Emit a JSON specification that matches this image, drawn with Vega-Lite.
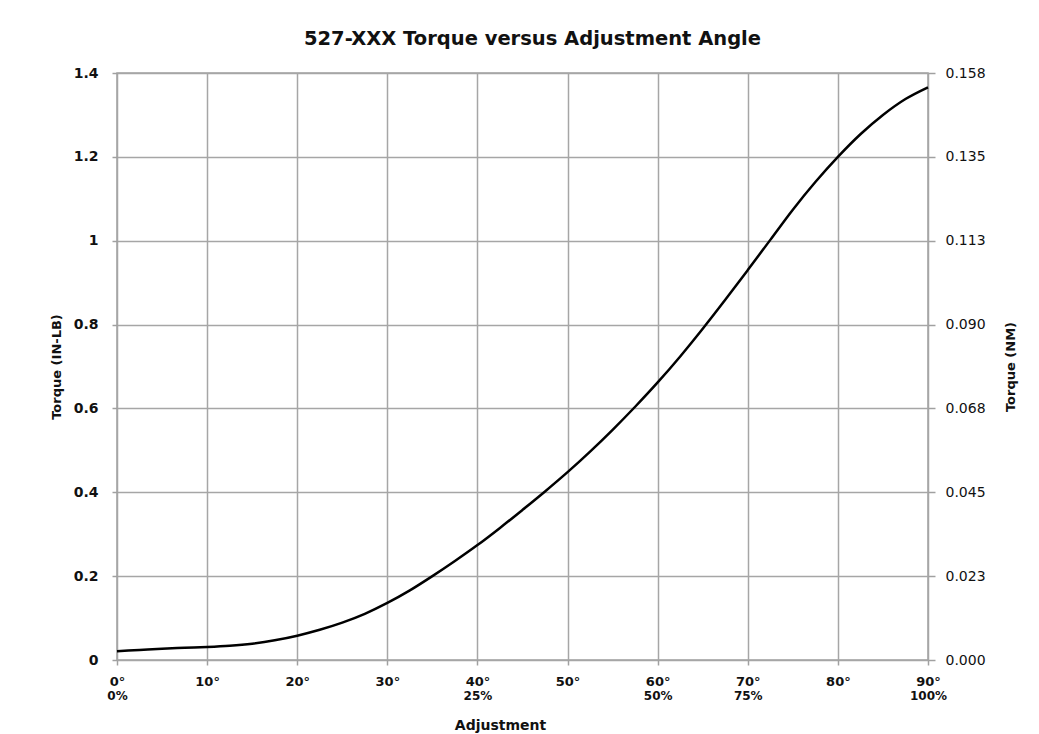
{
  "$schema": "https://vega.github.io/schema/vega-lite/v6.json",
  "width": 811,
  "height": 587,
  "autosize": "none",
  "padding": {"left": 117, "top": 73, "right": 111, "bottom": 74},
  "background": "white",
  "title": {
    "text": "527-XXX Torque versus Adjustment Angle",
    "font": "DejaVu Sans",
    "fontSize": 19.5,
    "fontWeight": "bold",
    "color": "#111111",
    "offset": 17,
    "dx": 10
  },
  "config": {
    "view": {"stroke": "#a0a0a0", "strokeWidth": 1.5},
    "axis": {
      "labelFont": "DejaVu Sans",
      "titleFont": "DejaVu Sans",
      "labelColor": "#111111",
      "titleColor": "#111111",
      "labelFlush": false,
      "domain": false,
      "tickColor": "#a0a0a0",
      "tickWidth": 1.5,
      "gridColor": "#a6a6a6",
      "gridWidth": 1.5
    }
  },
  "data": {
    "values": [
      {"angle": 0, "torque": 0.021},
      {"angle": 2.5, "torque": 0.024},
      {"angle": 5, "torque": 0.027},
      {"angle": 7.5, "torque": 0.029},
      {"angle": 10, "torque": 0.031},
      {"angle": 12.5, "torque": 0.034},
      {"angle": 15, "torque": 0.039},
      {"angle": 17.5, "torque": 0.047},
      {"angle": 20, "torque": 0.058},
      {"angle": 22.5, "torque": 0.072},
      {"angle": 25, "torque": 0.089},
      {"angle": 27.5, "torque": 0.11},
      {"angle": 30, "torque": 0.136},
      {"angle": 32.5, "torque": 0.166},
      {"angle": 35, "torque": 0.2},
      {"angle": 37.5, "torque": 0.236},
      {"angle": 40, "torque": 0.274},
      {"angle": 42.5, "torque": 0.315},
      {"angle": 45, "torque": 0.358},
      {"angle": 47.5, "torque": 0.402},
      {"angle": 50, "torque": 0.448},
      {"angle": 52.5, "torque": 0.497},
      {"angle": 55, "torque": 0.549},
      {"angle": 57.5, "torque": 0.604},
      {"angle": 60, "torque": 0.662},
      {"angle": 62.5, "torque": 0.724},
      {"angle": 65, "torque": 0.79},
      {"angle": 67.5, "torque": 0.859},
      {"angle": 70, "torque": 0.93},
      {"angle": 72.5, "torque": 1.002},
      {"angle": 75, "torque": 1.074},
      {"angle": 77.5, "torque": 1.14},
      {"angle": 80, "torque": 1.2},
      {"angle": 82.5, "torque": 1.254},
      {"angle": 85, "torque": 1.3},
      {"angle": 87.5, "torque": 1.338},
      {"angle": 90, "torque": 1.366}
    ]
  },
  "layer": [
    {
      "mark": {"type": "line", "color": "black", "strokeWidth": 2.5, "interpolate": "monotone"},
      "encoding": {
        "x": {
          "field": "angle",
          "type": "quantitative",
          "scale": {"domain": [0, 90], "nice": false, "zero": true},
          "axis": {
            "orient": "bottom",
            "values": [0, 10, 20, 30, 40, 50, 60, 70, 80, 90],
            "labelExpr": "datum.value + '°'",
            "labelFontSize": 13,
            "labelFontWeight": "bold",
            "labelPadding": 10,
            "tickSize": 5,
            "grid": true,
            "title": "Adjustment",
            "titleFontSize": 14,
            "titleFontWeight": "bold",
            "titlePadding": 30,
            "titleX": 383
          }
        },
        "y": {
          "field": "torque",
          "type": "quantitative",
          "scale": {"domain": [0, 1.4], "nice": false},
          "axis": {
            "orient": "left",
            "values": [0, 0.2, 0.4, 0.6, 0.8, 1, 1.2, 1.4],
            "labelExpr": "datum.value == 0 ? '0' : datum.value == 1 ? '1' : format(datum.value, '.1f')",
            "labelFontSize": 14,
            "labelFontWeight": "bold",
            "labelPadding": 14,
            "tickSize": 5,
            "grid": true,
            "title": "Torque (IN-LB)",
            "titleFontSize": 13,
            "titleFontWeight": "bold",
            "titlePadding": 10
          }
        }
      }
    },
    {
      "mark": {"type": "line", "strokeOpacity": 0, "interpolate": "monotone"},
      "encoding": {
        "x": {
          "field": "angle",
          "type": "quantitative",
          "scale": {"domain": [0, 90], "nice": false, "zero": true},
          "axis": {
            "orient": "bottom",
            "values": [0, 40, 60, 70, 90],
            "labelExpr": "datum.value == 0 ? '0%' : datum.value == 40 ? '25%' : datum.value == 60 ? '50%' : datum.value == 70 ? '75%' : '100%'",
            "labelFontSize": 12,
            "labelFontWeight": "bold",
            "ticks": false,
            "labelPadding": 30,
            "grid": false,
            "title": null
          }
        },
        "y": {
          "field": "torque",
          "type": "quantitative",
          "scale": {"domain": [0, 1.4], "nice": false},
          "axis": {
            "orient": "right",
            "values": [0, 0.2, 0.4, 0.6, 0.8, 1, 1.2, 1.4],
            "labelExpr": "format(datum.value * 0.158 / 1.4, '.3f')",
            "labelFontSize": 14,
            "labelFontWeight": 500,
            "labelPadding": 10,
            "tickSize": 7,
            "grid": false,
            "title": "Torque (NM)",
            "titleAngle": 270,
            "titleFontSize": 13,
            "titleFontWeight": "bold",
            "titlePadding": 32
          }
        }
      }
    }
  ],
  "resolve": {"scale": {"x": "independent", "y": "independent"}}
}
